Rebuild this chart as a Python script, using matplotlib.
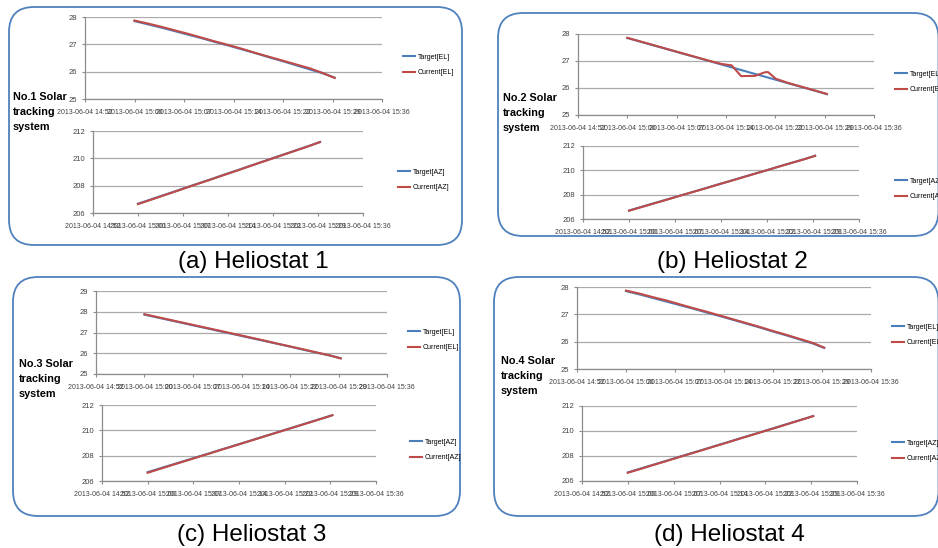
import pandas as pd
import matplotlib.pyplot as plt
from matplotlib.patches import FancyBboxPatch

W, H = 938, 548
DAY = "2013-06-04 "

# sample times shared by all series (every ~2 min)
times = ["14:59:20", "15:01:20", "15:03:20", "15:05:20", "15:07:20", "15:09:20", "15:11:20", "15:13:20",
         "15:15:20", "15:17:20", "15:19:20", "15:21:20", "15:23:20", "15:25:20", "15:27:20", "15:29:00"]
# heliostat 2 current EL has a glitch, so it gets its own time base
times_cur_el_2 = ["14:59:20", "15:01:20", "15:03:20", "15:05:20", "15:07:20", "15:09:20", "15:11:20", "15:13:20",
                  "15:14:50", "15:16:15", "15:18:20", "15:19:45", "15:20:15", "15:21:25",
                  "15:23:20", "15:25:20", "15:27:20", "15:29:00"]

tick_labels = ["2013-06-04 14:52", "2013-06-04 15:00", "2013-06-04 15:07", "2013-06-04 15:14",
               "2013-06-04 15:22", "2013-06-04 15:29", "2013-06-04 15:36"]

el_target_1 = [27.85, 27.73, 27.61, 27.48, 27.35, 27.22, 27.08, 26.95, 26.81, 26.67, 26.52, 26.38, 26.23, 26.08, 25.93, 25.78]
el_current_1 = [27.87, 27.76, 27.64, 27.51, 27.38, 27.24, 27.10, 26.97, 26.83, 26.68, 26.54, 26.40, 26.26, 26.12, 25.94, 25.77]
az_target_1 = [206.68, 206.98, 207.28, 207.58, 207.89, 208.19, 208.49, 208.80, 209.10, 209.41, 209.71, 210.02, 210.32, 210.63, 210.93, 211.20]
az_current_1 = [206.65, 206.95, 207.26, 207.56, 207.87, 208.17, 208.47, 208.78, 209.08, 209.39, 209.70, 210.00, 210.31, 210.61, 210.92, 211.19]

el_target_2 = [27.85, 27.71, 27.57, 27.43, 27.29, 27.15, 27.01, 26.87, 26.73, 26.59, 26.45, 26.31, 26.17, 26.03, 25.89, 25.77]
el_current_2 = [27.86, 27.72, 27.58, 27.44, 27.30, 27.16, 27.02, 26.89, 26.84, 26.44, 26.45, 26.58, 26.59, 26.34,
                26.18, 26.04, 25.90, 25.78]
az_target_2 = [206.70, 207.00, 207.30, 207.60, 207.90, 208.20, 208.50, 208.81, 209.11, 209.42, 209.72, 210.02, 210.33, 210.63, 210.93, 211.20]
az_current_2 = [206.68, 206.98, 207.28, 207.58, 207.89, 208.19, 208.49, 208.80, 209.10, 209.40, 209.71, 210.01, 210.32, 210.62, 210.92, 211.19]

el_target_3 = [27.86, 27.72, 27.58, 27.44, 27.30, 27.16, 27.02, 26.88, 26.74, 26.60, 26.46, 26.32, 26.17, 26.03, 25.89, 25.76]
el_current_3 = [27.88, 27.74, 27.60, 27.46, 27.32, 27.18, 27.04, 26.90, 26.76, 26.62, 26.47, 26.33, 26.19, 26.04, 25.90, 25.75]
az_target_3 = [206.70, 207.00, 207.30, 207.60, 207.90, 208.20, 208.51, 208.81, 209.11, 209.42, 209.72, 210.03, 210.33, 210.64, 210.94, 211.20]
az_current_3 = [206.65, 206.96, 207.27, 207.57, 207.88, 208.18, 208.49, 208.79, 209.10, 209.40, 209.71, 210.01, 210.32, 210.62, 210.93, 211.19]

el_target_4 = [27.85, 27.73, 27.60, 27.47, 27.34, 27.21, 27.07, 26.94, 26.80, 26.66, 26.52, 26.37, 26.23, 26.08, 25.93, 25.77]
el_current_4 = [27.87, 27.76, 27.63, 27.51, 27.37, 27.23, 27.10, 26.96, 26.82, 26.68, 26.54, 26.39, 26.25, 26.10, 25.95, 25.78]
az_target_4 = [206.69, 206.99, 207.29, 207.59, 207.90, 208.20, 208.50, 208.81, 209.11, 209.42, 209.72, 210.03, 210.33, 210.64, 210.94, 211.20]
az_current_4 = [206.66, 206.96, 207.27, 207.57, 207.88, 208.18, 208.48, 208.79, 209.09, 209.40, 209.70, 210.01, 210.31, 210.62, 210.93, 211.19]

systems = ["No.1 Solar\ntracking\nsystem", "No.2 Solar\ntracking\nsystem",
           "No.3 Solar\ntracking\nsystem", "No.4 Solar\ntracking\nsystem"]
captions = ["(a) Heliostat 1", "(b) Heliostat 2", "(c) Heliostat 3", "(d) Heliostat 4"]

BLUE = "#4a7ebb"
RED = "#be4b48"
BOX = "#4f81bd"
SMALL = ["Liberation Sans", "DejaVu Sans"]


def to_dt(ts):
    return pd.to_datetime([DAY + t for t in ts])


def px_rect(x0, y0, x1, y1):
    return [x0 / W, 1 - y1 / H, (x1 - x0) / W, (y1 - y0) / H]


fig = plt.figure(figsize=(W / 100, H / 100), dpi=100)
fig.patch.set_facecolor("white")

x_ticks = pd.date_range(DAY + "14:52", DAY + "15:36", periods=7)

# layout of each panel in pixels
layout = [
    dict(box=(9, 7, 462, 245), el=(85, 17, 382, 99), az=(93, 131, 363, 213),
         leg_el=(403, 65), leg_az=(398, 180), txt=(13, 92), cap=(253, 262), el_max=28),
    dict(box=(498, 13, 938.5, 236), el=(578, 34, 874, 115), az=(583, 146, 859, 219),
         leg_el=(895, 82), leg_az=(895, 189), txt=(503, 93), cap=(732, 262), el_max=28),
    dict(box=(13, 277, 460, 516), el=(96, 291, 387, 374), az=(102, 405, 376, 481),
         leg_el=(408, 340), leg_az=(410, 450), txt=(19, 359), cap=(252, 535), el_max=29),
    dict(box=(494, 277, 938.5, 516), el=(577, 287, 871, 369), az=(582, 406, 857, 481),
         leg_el=(892, 335), leg_az=(892, 451), txt=(501, 356), cap=(729, 535), el_max=28),
]

series = [
    (el_target_1, times, el_current_1, times, az_target_1, az_current_1),
    (el_target_2, times, el_current_2, times_cur_el_2, az_target_2, az_current_2),
    (el_target_3, times, el_current_3, times, az_target_3, az_current_3),
    (el_target_4, times, el_current_4, times, az_target_4, az_current_4),
]


def style_axes(ax, ylim, yticks):
    ax.set_xlim(x_ticks[0], x_ticks[-1])
    ax.set_ylim(*ylim)
    ax.set_yticks(yticks)
    ax.set_xticks(x_ticks)
    ax.set_xticklabels(tick_labels, fontsize=5.0, family=SMALL, color="#404040")
    for lab in ax.get_yticklabels():
        lab.set_fontsize(5.5)
        lab.set_family(SMALL)
        lab.set_color("#404040")
    ax.grid(axis="y", color="#ababab", lw=0.9)
    ax.set_axisbelow(True)
    for s in ["top", "right"]:
        ax.spines[s].set_visible(False)
    for s in ["left", "bottom"]:
        ax.spines[s].set_color("#8c8c8c")
        ax.spines[s].set_linewidth(0.9)
    ax.tick_params(axis="both", length=2.5, width=0.8, color="#8c8c8c")
    ax.tick_params(axis="x", pad=4.5)
    ax.tick_params(axis="y", pad=3)
    ax.set_facecolor("none")


for i, lay in enumerate(layout):
    el_t, t_el_t, el_c, t_el_c, az_t, az_c = series[i]

    x0, y0, x1, y1 = lay["box"]
    box = FancyBboxPatch((x0 / 100, (H - y1) / 100), (x1 - x0) / 100, (y1 - y0) / 100,
                         boxstyle="round,pad=0,rounding_size=0.25",
                         transform=fig.dpi_scale_trans, fc="none", ec=BOX, lw=1.3)
    fig.add_artist(box)

    ax_el = fig.add_axes(px_rect(*lay["el"]))
    l1, = ax_el.plot(to_dt(t_el_t), el_t, color=BLUE, lw=1.5)
    l2, = ax_el.plot(to_dt(t_el_c), el_c, color=RED, lw=1.5)
    style_axes(ax_el, (25, lay["el_max"]), range(25, lay["el_max"] + 1))
    fig.legend([l1, l2], ["Target[EL]", "Current[EL]"], loc="center left",
               bbox_to_anchor=(lay["leg_el"][0] / W, 1 - lay["leg_el"][1] / H),
               frameon=False, prop=dict(family=SMALL, size=5), handlelength=1.7,
               handletextpad=0.45, labelspacing=1.2, borderpad=0, borderaxespad=0)

    ax_az = fig.add_axes(px_rect(*lay["az"]))
    l3, = ax_az.plot(to_dt(times), az_t, color=BLUE, lw=1.5)
    l4, = ax_az.plot(to_dt(times), az_c, color=RED, lw=1.5)
    style_axes(ax_az, (206, 212), [206, 208, 210, 212])
    fig.legend([l3, l4], ["Target[AZ]", "Current[AZ]"], loc="center left",
               bbox_to_anchor=(lay["leg_az"][0] / W, 1 - lay["leg_az"][1] / H),
               frameon=False, prop=dict(family=SMALL, size=5), handlelength=1.7,
               handletextpad=0.45, labelspacing=1.2, borderpad=0, borderaxespad=0)

    fig.text(lay["txt"][0] / W, 1 - lay["txt"][1] / H, systems[i], ha="left", va="top",
             fontsize=7.8, fontweight="bold", family=SMALL, linespacing=1.6)
    fig.text(lay["cap"][0] / W, 1 - lay["cap"][1] / H, captions[i], ha="center", va="center",
             fontsize=17.5, family=["Liberation Sans", "DejaVu Sans"])

fig.savefig("out.png", dpi=100, facecolor="white")
